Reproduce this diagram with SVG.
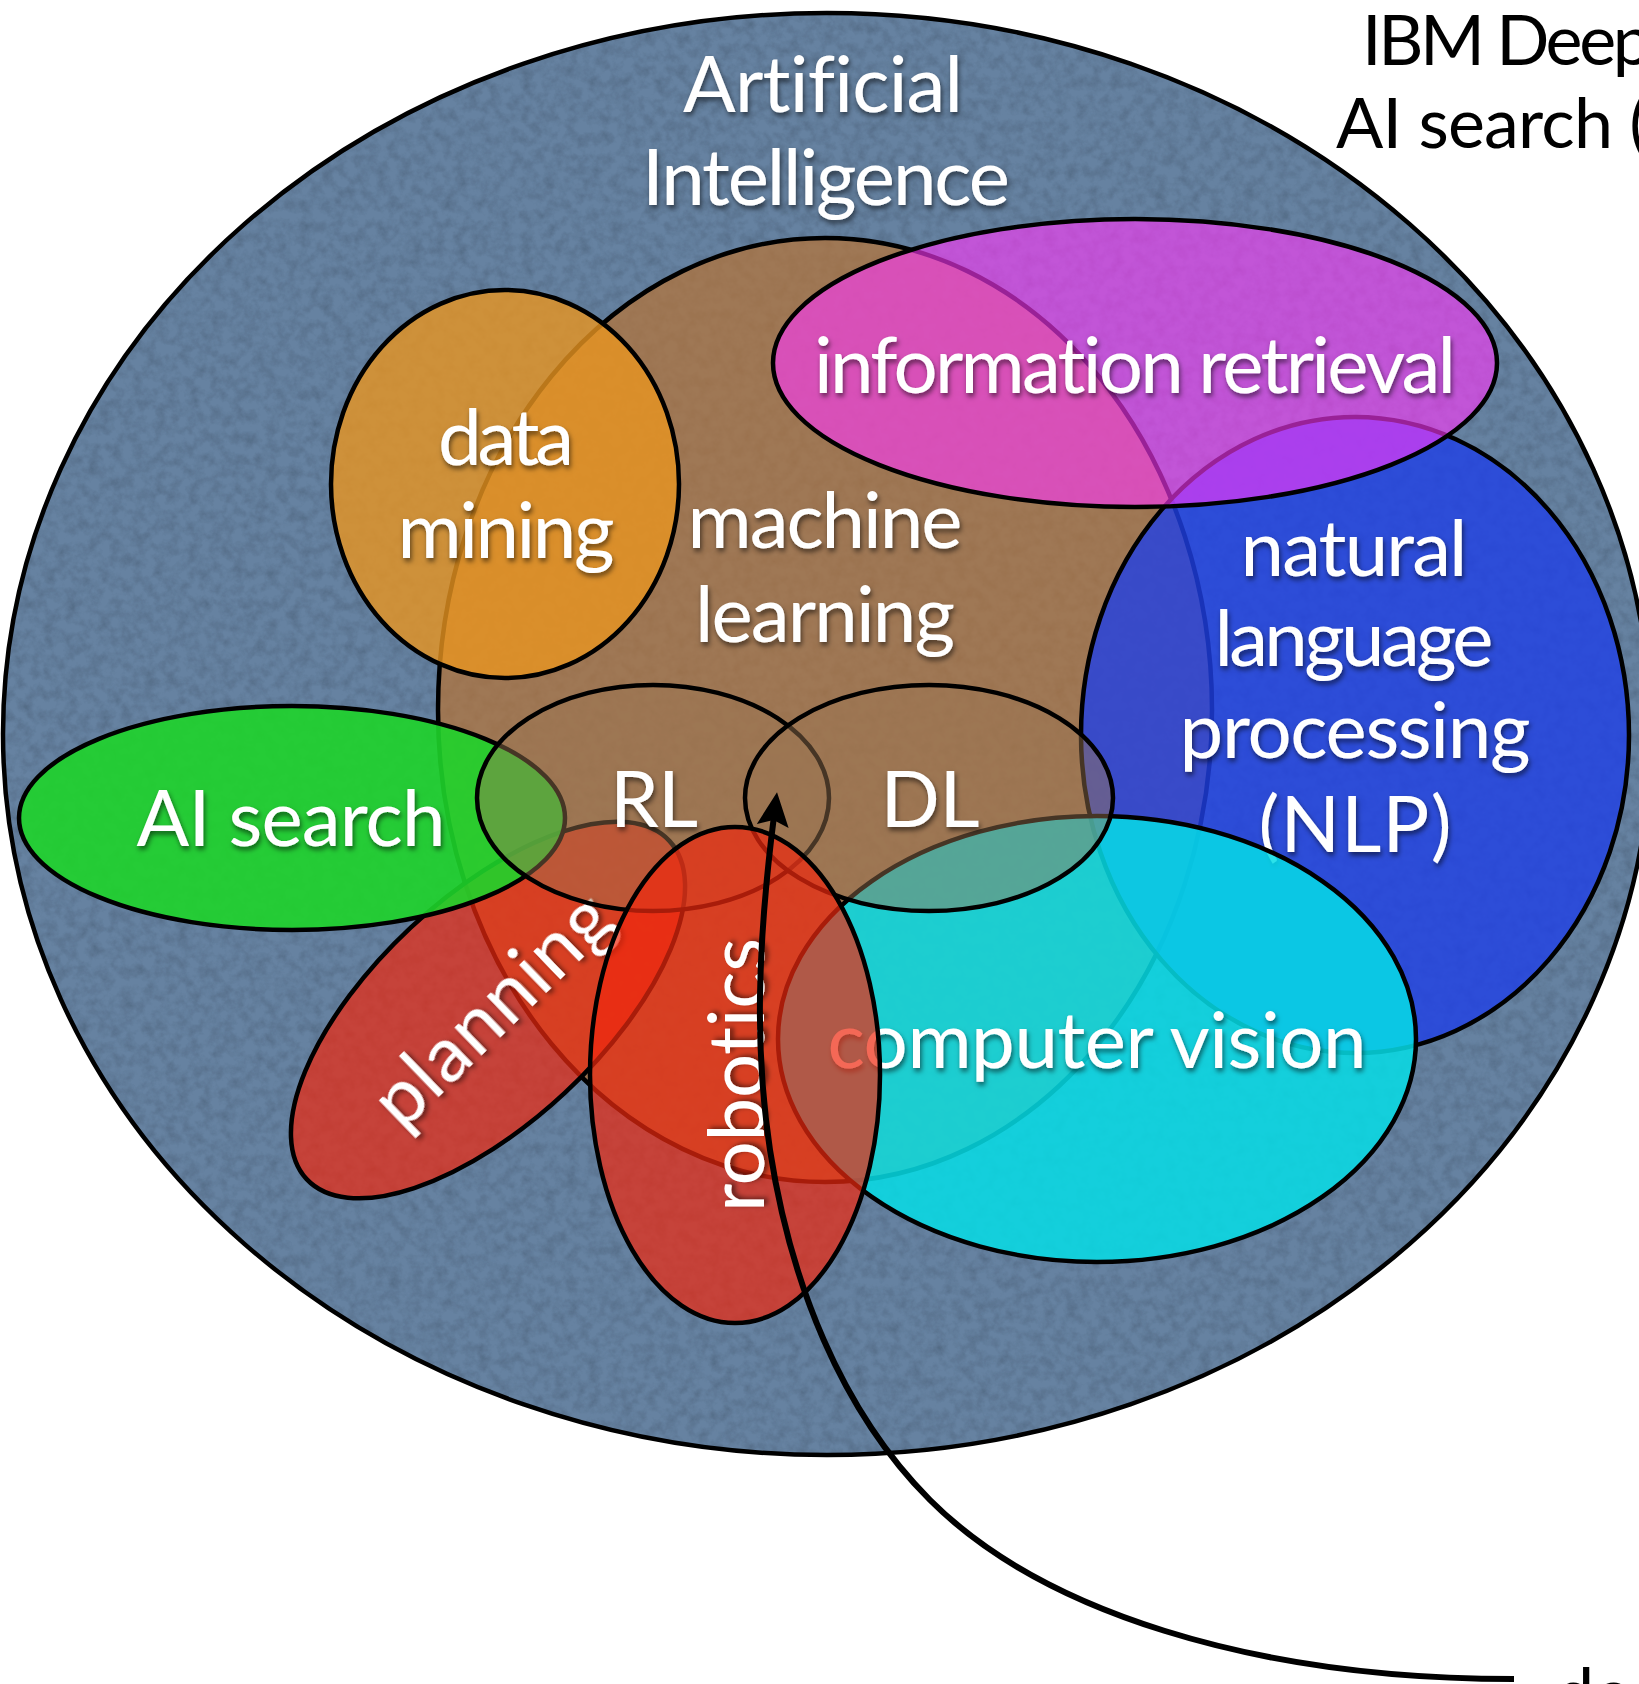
<svg xmlns="http://www.w3.org/2000/svg" width="1639" height="1684" viewBox="0 0 1639 1684">
  <style>
    .set { stroke: #000; stroke-width: 4.5; }
    .lbl { font-family: Lato, "Open Sans", "Liberation Sans", sans-serif; font-size: 78px; fill: #fff; text-anchor: middle; font-variant-ligatures: none; filter: url(#shadow); }
    .note { font-family: Lato, "Open Sans", "Liberation Sans", sans-serif; font-size: 70px; fill: #000; font-variant-ligatures: none; }
    .link { fill: none; stroke: #000; stroke-width: 6; }
  </style>
  <defs>
    <filter id="shadow" x="-20%" y="-40%" width="140%" height="180%">
      <feDropShadow dx="1.5" dy="3.5" stdDeviation="2.5" flood-color="#000" flood-opacity="0.55"/>
    </filter>
    <filter id="grain" x="0" y="0" width="100%" height="100%">
      <feTurbulence type="fractalNoise" baseFrequency="0.09" numOctaves="4" seed="7" result="noise"/>
      <feColorMatrix in="noise" type="matrix" values="0 0 0 0 0  0 0 0 0 0  0 0 0 0 0  0.55 0 0 0 -0.2" result="spots"/>
      <feComposite in="spots" in2="SourceGraphic" operator="in" result="grainy"/>
      <feMerge><feMergeNode in="SourceGraphic"/><feMergeNode in="grainy"/></feMerge>
    </filter>
    <marker id="head" viewBox="0 0 34 32" markerWidth="34" markerHeight="32" refX="10" refY="16" orient="auto" markerUnits="userSpaceOnUse">
      <path d="M0,0 L34,16 L0,32 L6,16 Z" fill="#000"/>
    </marker>
  </defs>

  <!-- Artificial Intelligence: the enclosing field -->
  <g id="ai">
    <ellipse cx="827" cy="734" rx="824" ry="721" fill="#6682a1" filter="url(#grain)"/>
    <ellipse class="set" cx="827" cy="734" rx="824" ry="721" fill="none"/>
    <text class="lbl" x="823" y="112" textLength="280">Artificial</text>
    <text class="lbl" x="826" y="205" textLength="368">Intelligence</text>
  </g>

  <!-- machine learning -->
  <g id="ml">
    <ellipse class="set" cx="825" cy="710" rx="387" ry="472" fill="#b87334" fill-opacity="0.7"/>
    <text class="lbl" x="825" y="548" textLength="275">machine</text>
    <text class="lbl" x="825" y="642" textLength="260">learning</text>
  </g>

  <!-- data mining -->
  <g id="dm">
    <ellipse class="set" cx="505" cy="484" rx="174" ry="194" fill="#e89520" fill-opacity="0.8"/>
    <text class="lbl" x="506" y="465" textLength="136">data</text>
    <text class="lbl" x="506" y="558" textLength="217">mining</text>
  </g>

  <!-- planning -->
  <g id="planning">
    <ellipse class="set" cx="0" cy="0" rx="248" ry="113" transform="translate(488 1010) rotate(-43)" fill="#ef280e" fill-opacity="0.7"/>
    <text class="lbl" x="0" y="0" textLength="300" transform="translate(510 1028) rotate(-44)">planning</text>
  </g>

  <!-- AI search -->
  <g id="search">
    <ellipse class="set" cx="292" cy="818" rx="273" ry="112" fill="#1ed42a" fill-opacity="0.9"/>
    <text class="lbl" x="291" y="846" textLength="309">AI search</text>
  </g>

  <!-- natural language processing -->
  <g id="nlp">
    <ellipse class="set" cx="1355" cy="735" rx="274" ry="318" fill="#1f40e6" fill-opacity="0.8"/>
    <text class="lbl" x="1354" y="576" textLength="227">natural</text>
    <text class="lbl" x="1354" y="666" textLength="279">language</text>
    <text class="lbl" x="1355" y="758" textLength="351">processing</text>
    <text class="lbl" x="1355" y="852" textLength="193">(NLP)</text>
  </g>

  <!-- information retrieval -->
  <g id="ir">
    <ellipse class="set" cx="1135" cy="363" rx="362" ry="144" fill="#ff37fc" fill-opacity="0.6"/>
    <text class="lbl" x="1135" y="393" textLength="642">information retrieval</text>
  </g>

  <!-- computer vision -->
  <g id="cv">
    <ellipse class="set" cx="1097" cy="1039" rx="319" ry="223" fill="#06dde6" fill-opacity="0.85"/>
    <text class="lbl" x="1097" y="1068" textLength="539">computer vision</text>
  </g>

  <!-- reinforcement learning -->
  <g id="rl">
    <ellipse class="set" cx="653" cy="798" rx="176" ry="113" fill="#9b7652" fill-opacity="0.45"/>
    <text class="lbl" x="654" y="827" textLength="88">RL</text>
  </g>

  <!-- deep learning -->
  <g id="dl">
    <ellipse class="set" cx="929" cy="798" rx="184" ry="113" fill="#9b7652" fill-opacity="0.45"/>
    <text class="lbl" x="930" y="827" textLength="99">DL</text>
  </g>

  <!-- robotics -->
  <g id="robotics">
    <ellipse class="set" cx="735" cy="1075" rx="145" ry="248" fill="#ef280e" fill-opacity="0.7"/>
    <text class="lbl" x="0" y="0" textLength="274" transform="translate(764 1075) rotate(-90)">robotics</text>
  </g>

  <!-- side notes, running off the right edge -->
  <g id="notes">
    <text class="note" x="1362" y="65" textLength="290">IBM Deep</text>
    <text class="note" x="1336" y="148" textLength="312">AI search (</text>
    <text class="note" x="1555" y="1718">de</text>
  </g>

  <!-- connectors -->
  <g id="connectors">
    <path class="link" d="M1514,1679 C1250,1679 1040,1610 930,1500 C840,1410 790,1280 770,1150 C755,1050 757,950 774,816" marker-end="url(#head)"/>
  </g>
</svg>
